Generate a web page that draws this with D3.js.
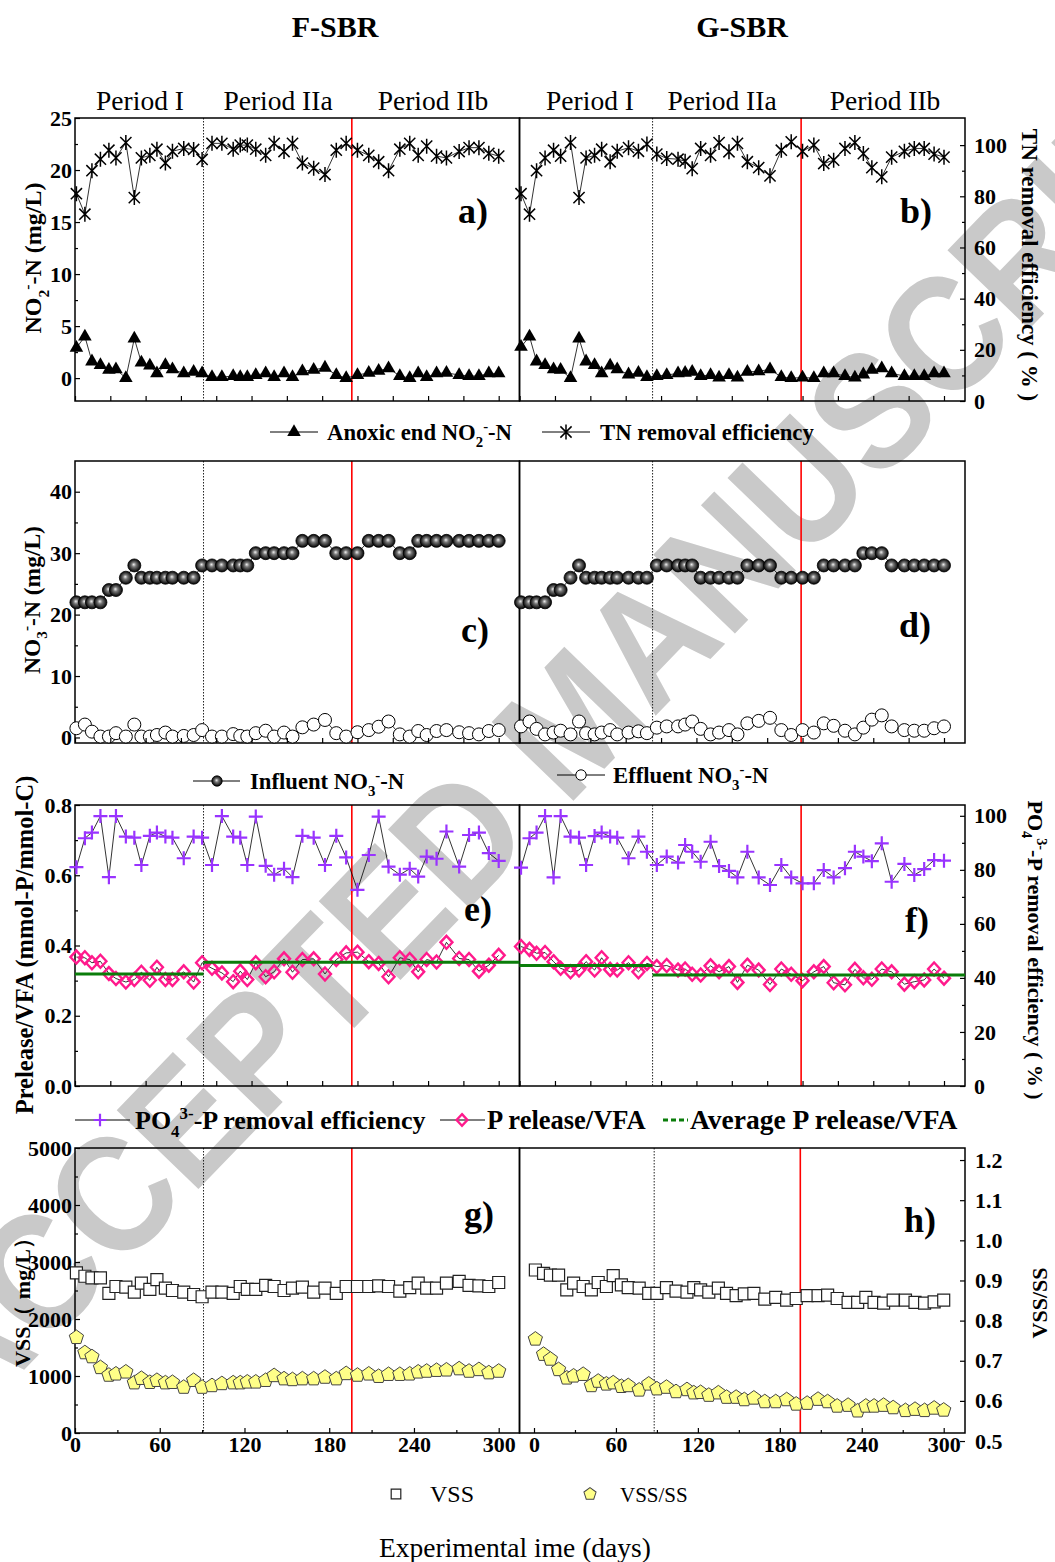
<!DOCTYPE html>
<html>
<head>
<meta charset="utf-8">
<script src="https://cdnjs.cloudflare.com/ajax/libs/d3/7.8.5/d3.min.js"></script>
<style>
  body { margin: 0; background: #fff; }
  svg text { font-family: "Liberation Serif", "Times New Roman", serif; }
  svg text.watermark { font-family: "Liberation Sans", Arial, sans-serif; }
</style>
</head>
<body>
<script>
// Sampling days (same schedule for both reactors)
const days = [1,7,12,18,24,29,36,42,47,53,58,64,69,77,84,90,97,104,112,117,122,128,135,141,148,154,
  161,169,177,185,192,200,208,215,222,230,237,243,249,256,263,272,279,286,293,300];

// Period boundaries (days) : I | IIa | IIb
const boundF = [91, 196];
const boundG = [94, 199];
const boundGh = [88, 195];
const periodNames = ['Period I', 'Period IIa', 'Period IIb'];

// a/b) anoxic end NO2--N (mg/L) and TN removal efficiency (%)
const no2F = [2.9,4.0,1.6,1.25,0.8,0.85,0,3.8,1.5,1.2,0.45,1.25,0.85,0.45,0.6,0.45,0.1,0.1,0.2,0.1,
  0.1,0.3,0.45,0.1,0.45,0.1,0.65,0.8,1.0,0.3,0,0.3,0.5,0.7,0.95,0.2,0,0.45,0.1,0.45,0.5,0.3,0.2,0.2,0.45,0.45];
const no2G = [3.0,4.0,1.6,1.25,0.85,0.8,0,3.8,1.6,1.25,0.45,1.2,0.85,0.35,0.5,0.1,0.2,0.3,0.45,0.5,
  0.6,0.2,0.3,0.05,0.3,0.05,0.6,0.65,0.85,0.1,0,0.05,0,0.45,0.45,0.2,0.05,0.35,0.8,0.95,0.45,0.2,0.2,0.2,0.45,0.45];
const tnF = [81,73,90,94.5,98,95,101,79.5,95,96,98.4,93,97.6,98.7,98.3,94.4,100.7,100.7,98.4,100,
  100,98.4,96,100.7,97.5,100.7,93,91,88.5,98,100.7,98,96,93.5,90,98.4,100.7,96,99.6,95.7,95,97.5,99,99,96.8,95.7];
const tnG = [81,73,90,95,98,95.7,101,79.5,95,96,98.4,93.5,97.6,99,97.6,100.4,96.5,94.8,94.5,93.7,
  90.8,98.7,96,101,97.4,100.7,93.5,91.2,88,98,101.3,97.6,100,92.8,94.1,98.7,101,96.7,91.2,87.6,95.3,97.6,98.7,98.7,96.5,95.3];

// c/d) influent and effluent NO3--N (mg/L)
const inflF = [22,22,22,22,24,24,26,28,26,26,26,26,26,26,26,28,28,28,28,28,28,30,30,30,30,30,32,32,32,30,
  30,30,32,32,32,30,30,32,32,32,32,32,32,32,32,32];
const inflG = [22,22,22,22,24,24,26,28,26,26,26,26,26,26,26,26,28,28,28,28,28,26,26,26,26,26,28,28,28,26,
  26,26,26,28,28,28,28,30,30,30,28,28,28,28,28,28];
const efflF = [1.5,2.1,0.95,0.15,0.15,0.7,0.15,2.1,0.15,0.15,0.4,0.8,0.15,0.25,0.4,1.2,0.15,0.15,0.55,0.25,
  0.15,0.7,1.1,0.15,0.8,0.15,1.65,2.1,2.85,0.7,0.15,0.85,1.2,1.75,2.6,0.5,0.15,1.05,0.4,1.05,1.2,0.85,0.7,0.5,1.05,1.2];
const efflG = [1.8,2.6,1.4,0.5,0.8,1.1,0.5,2.6,0.7,0.5,0.8,1.2,0.5,0.8,1.0,0.7,1.6,1.8,1.8,2.1,
  2.6,1.4,0.5,0.8,1.2,0.5,2.3,2.7,3.2,1.2,0.4,1.2,0.8,2.3,1.9,1.1,0.5,1.6,2.9,3.6,1.8,1.2,1.1,1.1,1.5,1.8];

// e/f) PO4 3--P removal efficiency (%) and P release/VFA (mmol-P/mmol-C)
const poF = [81.0,91.7,93.8,99.9,77.3,99.9,92.3,91.9,81.8,92.6,93.8,92.3,91.9,84.3,92.3,91.9,81.8,99.9,92.3,91.9,
  81.8,99.7,81.5,78.2,80.4,77.3,92.6,91.9,81.8,92.6,84.6,72.6,85.5,99.7,81.2,78.2,80.4,77.5,84.9,84.1,94.2,81.2,92.9,93.8,86.2,83.3];
const poG = [80.8,91.7,93.8,99.9,77.2,99.9,92.3,91.9,81.8,92.5,93.8,92.3,91.9,84.3,92.3,86.7,81.8,84.9,82.7,89.2,
  86.7,83.0,90.4,81.4,79.6,77.2,86.7,77.2,74.4,81.8,77.2,75.0,75.0,79.9,77.2,80.6,86.7,84.9,83.2,89.8,75.6,82.2,78.1,80.3,83.6,83.4];
const prF = [0.367,0.365,0.351,0.355,0.320,0.306,0.296,0.303,0.324,0.301,0.338,0.303,0.303,0.325,0.296,0.351,0.335,0.322,0.297,0.327,
  0.303,0.351,0.311,0.325,0.362,0.324,0.360,0.362,0.319,0.360,0.379,0.381,0.354,0.349,0.311,0.365,0.360,0.325,0.360,0.353,0.409,0.363,0.360,0.327,0.344,0.372];
const prG = [0.397,0.389,0.378,0.380,0.354,0.335,0.325,0.330,0.354,0.330,0.365,0.332,0.330,0.351,0.325,0.349,0.340,0.343,0.330,0.333,
  0.318,0.316,0.342,0.325,0.340,0.295,0.344,0.330,0.289,0.333,0.318,0.300,0.325,0.340,0.294,0.288,0.332,0.308,0.304,0.333,0.325,0.290,0.297,0.302,0.333,0.307];
// average P release/VFA for period I and period II
const avgF = [0.319, 0.352];
const avgG = [0.343, 0.316];

// g/h) VSS (mg/L) and VSS/SS
const vssF = [2810,2750,2720,2720,2450,2570,2560,2470,2630,2520,2690,2540,2500,2470,2430,2390,2470,2470,2450,2570,
  2520,2520,2590,2570,2500,2540,2560,2470,2540,2450,2570,2570,2570,2580,2570,2490,2550,2630,2540,2540,2630,2660,2590,2580,2570,2640];
const vssG = [2860,2800,2770,2770,2510,2630,2570,2510,2640,2570,2760,2600,2550,2540,2450,2450,2550,2490,2470,2550,
  2510,2470,2540,2450,2410,2440,2450,2350,2380,2330,2360,2410,2410,2420,2360,2290,2290,2380,2290,2280,2330,2330,2290,2280,2300,2330];
const ratioF = [0.758,0.720,0.710,0.683,0.664,0.667,0.672,0.645,0.656,0.646,0.651,0.645,0.646,0.634,0.651,0.634,0.638,0.643,0.645,0.645,
  0.647,0.647,0.651,0.663,0.655,0.653,0.655,0.655,0.659,0.655,0.668,0.664,0.667,0.661,0.666,0.666,0.667,0.672,0.674,0.676,0.677,0.680,0.674,0.678,0.670,0.674];
const ratioG = [0.754,0.716,0.704,0.678,0.657,0.662,0.666,0.638,0.649,0.642,0.645,0.636,0.638,0.627,0.642,0.630,0.634,0.623,0.628,0.620,
  0.621,0.614,0.620,0.609,0.609,0.603,0.607,0.598,0.598,0.603,0.592,0.594,0.604,0.598,0.587,0.589,0.575,0.587,0.587,0.589,0.583,0.576,0.579,0.576,0.582,0.577];

// ---------------------------------------------------------------------------
const width = 1055, height = 1562;
const serif = '"Liberation Serif", "Times New Roman", serif';

const svg = d3.select('body').append('svg')
  .attr('width', width)
  .attr('height', height);

svg.append('rect').attr('width', width).attr('height', height).attr('fill', '#fff');

// sphere gradient for influent markers
const defs = svg.append('defs');
const grad = defs.append('radialGradient').attr('id', 'sphere')
  .attr('cx', '50%').attr('cy', '50%').attr('r', '50%').attr('fx', '45%').attr('fy', '42%');
grad.append('stop').attr('offset', '0%').attr('stop-color', '#f0f0f0');
grad.append('stop').attr('offset', '35%').attr('stop-color', '#777');
grad.append('stop').attr('offset', '100%').attr('stop-color', '#000');

// Watermark (behind everything)
svg.append('text')
  .attr('class', 'watermark')
  .attr('transform', 'translate(571,720) rotate(-46)')
  .attr('text-anchor', 'middle')
  .attr('y', 58)
  .attr('font-weight', 'bold')
  .attr('font-size', 165)
  .attr('textLength', 1860)
  .attr('lengthAdjust', 'spacingAndGlyphs')
  .attr('fill', '#c9c9c9')
  .text('ACCEPTED MANUSCRIPT');

// Layout
const colL = [75, 519.5], colR = [519.5, 965];
const rows = [[118, 401], [461, 743], [805, 1086], [1148, 1433]];

// Scales
const xL = d3.scaleLinear().domain([0, 300]).range([75, 498.7]);
const xR = d3.scaleLinear().domain([0, 300]).range([519.6, 944]);
const xH = d3.scaleLinear().domain([0, 300]).range([534, 943.7]);

const yNO2 = d3.scaleLinear().domain([-2.2, 25]).range([rows[0][1], rows[0][0]]);
const yTN = d3.scaleLinear().domain([0, 110.6]).range([rows[0][1], rows[0][0]]);
const yNO3 = d3.scaleLinear().domain([-0.9, 45]).range([rows[1][1], rows[1][0]]);
const yPR = d3.scaleLinear().domain([0, 0.8]).range([rows[2][1], rows[2][0]]);
const yPO = d3.scaleLinear().domain([0, 104]).range([rows[2][1], rows[2][0]]);
const yVSS = d3.scaleLinear().domain([0, 5000]).range([rows[3][1], rows[3][0]]);
const yRatio = d3.scaleLinear().domain([0.52, 1.23]).range([rows[3][1], rows[3][0]]);

const bg = svg.append('g');
const fg = svg.append('g');

// Marker shapes
const pent = d3.range(5).map(i => {
  const a = -Math.PI / 2 + i * 2 * Math.PI / 5;
  return [7.5 * Math.cos(a), 7.5 * Math.sin(a)];
});
const shapes = {
  tri: { d: d3.symbol(d3.symbolTriangle, 80)(), fill: '#000', stroke: 'none', sw: 0 },
  star: { d: 'M0,-7.5V7.5M-5.6,-5.6L5.6,5.6M5.6,-5.6L-5.6,5.6', fill: 'none', stroke: '#000', sw: 1.5 },
  sphere: { circle: 6.5, fill: 'url(#sphere)', stroke: '#000', sw: 0.8 },
  open: { circle: 6.5, fill: '#fff', stroke: '#000', sw: 1 },
  plus: { d: 'M-7,0H7M0,-7V7', fill: 'none', stroke: '#9933ff', sw: 2.2 },
  diamond: { d: 'M0,-6.5L6,0L0,6.5L-6,0Z', fill: 'none', stroke: '#ff1a8c', sw: 2.4 },
  square: { d: 'M-6,-6H6V6H-6Z', fill: '#fff', stroke: '#222', sw: 1.2 },
  pent: { d: 'M' + pent.map(p => p.join(',')).join('L') + 'Z', fill: '#ffff88', stroke: '#444', sw: 1 }
};

function marker(g, type, cx, cy, scale) {
  const s = shapes[type];
  const k = scale || 1;
  if (s.circle) {
    g.append('circle').attr('cx', cx).attr('cy', cy).attr('r', s.circle * k)
      .attr('fill', s.fill).attr('stroke', s.stroke).attr('stroke-width', s.sw);
  } else {
    g.append('path').attr('d', s.d)
      .attr('transform', `translate(${cx},${cy}) scale(${k})`)
      .attr('fill', s.fill).attr('stroke', s.stroke).attr('stroke-width', s.sw / k);
  }
}

// Draw one series: optional connecting line + markers
function series(values, x, y, type, withLine) {
  const pts = values.map((v, i) => [x(days[i]), y(v)]);
  if (withLine) {
    fg.append('path')
      .attr('d', d3.line()(pts))
      .attr('fill', 'none')
      .attr('stroke', '#000')
      .attr('stroke-width', 0.8);
  }
  const g = fg.append('g');
  pts.forEach(p => marker(g, type, p[0], p[1]));
}

// Frame and period lines of a panel
function panel(col, row, x, bounds) {
  bg.append('line').attr('x1', x(bounds[0])).attr('x2', x(bounds[0]))
    .attr('y1', row[0]).attr('y2', row[1])
    .attr('stroke', '#222').attr('stroke-width', 1).attr('stroke-dasharray', '1.5,1.5');
  bg.append('line').attr('x1', x(bounds[1])).attr('x2', x(bounds[1]))
    .attr('y1', row[0]).attr('y2', row[1])
    .attr('stroke', '#ff0000').attr('stroke-width', 1.6);
  bg.append('rect')
    .attr('x', col[0]).attr('y', row[0])
    .attr('width', col[1] - col[0]).attr('height', row[1] - row[0])
    .attr('fill', 'none').attr('stroke', '#000').attr('stroke-width', 1.5);
}

function styleAxis(g, size) {
  g.attr('font-family', serif).attr('font-size', size || 22).attr('font-weight', 'bold');
  g.select('.domain').remove();
  g.selectAll('text').attr('fill', '#000');
  g.selectAll('line').attr('stroke', '#000').attr('stroke-width', 1.2);
}

function axis(kind, scale, pos, major, minor, fmt, pad) {
  const make = { left: d3.axisLeft, right: d3.axisRight, bottom: d3.axisBottom }[kind];
  const tr = kind === 'bottom' ? `translate(0,${pos})` : `translate(${pos},0)`;
  if (minor) {
    const gm = fg.append('g').attr('transform', tr)
      .call(make(scale).tickValues(minor).tickFormat('').tickSizeInner(-3).tickSizeOuter(0));
    styleAxis(gm);
  }
  const g = fg.append('g').attr('transform', tr)
    .call(make(scale).tickValues(major).tickFormat(fmt || '').tickSizeInner(-5).tickSizeOuter(0).tickPadding(pad || 3));
  styleAxis(g);
  return g;
}

// Text with sub/superscripts: parts = [[text, mode], ...]
function rich(parent, x, y, parts, size, weight, anchor) {
  const t = parent.append('text')
    .attr('x', x).attr('y', y)
    .attr('font-size', size)
    .attr('font-weight', weight || 'bold')
    .attr('text-anchor', anchor || 'start')
    .attr('fill', '#000');
  let shift = 0;
  parts.forEach(([s, mode]) => {
    const target = mode === 'sub' ? size * 0.3 : mode === 'sup' ? -size * 0.4 : 0;
    const ts = t.append('tspan').attr('dy', target - shift).text(s);
    if (mode) ts.attr('font-size', size * 0.65);
    shift = target;
  });
  return t;
}

function vtitle(cx, cy, angle, parts, size) {
  const g = fg.append('g').attr('transform', `translate(${cx},${cy}) rotate(${angle})`);
  rich(g, 0, size * 0.35, parts, size, 'bold', 'middle');
}

// ---------------------------------------------------------------------------
// Panels
const bottomTicks = d3.range(0, 301, 25);

// Row 1: a) b)
panel(colL, rows[0], xL, boundF);
panel(colR, rows[0], xR, boundG);
series(no2F, xL, yNO2, 'tri', true);
series(tnF, xL, yTN, 'star', true);
series(no2G, xR, yNO2, 'tri', true);
series(tnG, xR, yTN, 'star', true);
axis('left', yNO2, colL[0], [0, 5, 10, 15, 20, 25], d3.range(2.5, 25, 5), d3.format('d'));
axis('right', yTN, colR[1], d3.range(0, 101, 20), d3.range(10, 110, 20), d3.format('d'), 9);
axis('bottom', xL, rows[0][1], bottomTicks);
axis('bottom', xR, rows[0][1], bottomTicks);

// Row 2: c) d)
panel(colL, rows[1], xL, boundF);
panel(colR, rows[1], xR, boundG);
series(inflF, xL, yNO3, 'sphere', true);
series(efflF, xL, yNO3, 'open', true);
series(inflG, xR, yNO3, 'sphere', true);
series(efflG, xR, yNO3, 'open', true);
axis('left', yNO3, colL[0], [0, 10, 20, 30, 40], [5, 15, 25, 35], d3.format('d'));
axis('bottom', xL, rows[1][1], bottomTicks);
axis('bottom', xR, rows[1][1], bottomTicks);

// Row 3: e) f)
panel(colL, rows[2], xL, boundF);
panel(colR, rows[2], xR, boundG);
function avgLines(avg, x, col, bounds) {
  const segs = [[col[0], x(bounds[0]), avg[0]], [x(bounds[0]), col[1], avg[1]]];
  segs.forEach(s => {
    fg.append('line').attr('x1', s[0]).attr('x2', s[1])
      .attr('y1', yPR(s[2])).attr('y2', yPR(s[2]))
      .attr('stroke', '#0a7d0a').attr('stroke-width', 3);
  });
}
series(poF, xL, yPO, 'plus', true);
series(prF, xL, yPR, 'diamond', true);
avgLines(avgF, xL, colL, boundF);
series(poG, xR, yPO, 'plus', true);
series(prG, xR, yPR, 'diamond', true);
avgLines(avgG, xR, colR, boundG);
axis('left', yPR, colL[0], [0, 0.2, 0.4, 0.6, 0.8], [0.1, 0.3, 0.5, 0.7], d3.format('.1f'));
axis('right', yPO, colR[1], d3.range(0, 101, 20), d3.range(10, 100, 20), d3.format('d'), 9);
axis('bottom', xL, rows[2][1], bottomTicks);
axis('bottom', xR, rows[2][1], bottomTicks);

// Row 4: g) h)
panel(colL, rows[3], xL, boundF);
panel(colR, rows[3], xH, boundGh);
series(vssF, xL, yVSS, 'square', false);
series(ratioF, xL, yRatio, 'pent', false);
series(vssG, xH, yVSS, 'square', false);
series(ratioG, xH, yRatio, 'pent', false);
axis('left', yVSS, colL[0], d3.range(0, 5001, 1000), d3.range(500, 5000, 1000), d3.format('d'));
axis('right', yRatio, colR[1], [0.5, 0.6, 0.7, 0.8, 0.9, 1.0, 1.1, 1.2], null, d3.format('.1f'), 10);
axis('bottom', xL, rows[3][1], d3.range(0, 301, 60), d3.range(30, 301, 60), d3.format('d'), 3);
axis('bottom', xH, rows[3][1], d3.range(0, 301, 60), d3.range(30, 301, 60), d3.format('d'), 3);

// ---------------------------------------------------------------------------
// Titles and period labels
const titles = fg.append('g').attr('font-family', serif);
titles.append('text').attr('x', 335).attr('y', 37).attr('text-anchor', 'middle')
  .attr('font-size', 30).attr('font-weight', 'bold').text('F-SBR');
titles.append('text').attr('x', 742).attr('y', 37).attr('text-anchor', 'middle')
  .attr('font-size', 30).attr('font-weight', 'bold').text('G-SBR');

const periodX = [[140, 278, 433], [590, 722, 885]];
periodX.forEach(xs => xs.forEach((px, i) => {
  titles.append('text').attr('x', px).attr('y', 110).attr('text-anchor', 'middle')
    .attr('font-size', 27.5).text(periodNames[i]);
}));

// Panel letters
const letters = [['a)', 458, 223], ['b)', 900, 223], ['c)', 461, 642], ['d)', 899, 637],
  ['e)', 464, 921], ['f)', 905, 932], ['g)', 464, 1226], ['h)', 904, 1232]];
letters.forEach(l => {
  titles.append('text').attr('x', l[1]).attr('y', l[2])
    .attr('font-size', 36).attr('font-weight', 'bold').text(l[0]);
});

// Axis titles
vtitle(33, 258, -90, [['NO'], ['2', 'sub'], ['-', 'sup'], ['-N (mg/L)']], 24);
vtitle(32, 600, -90, [['NO'], ['3', 'sub'], ['-', 'sup'], ['-N (mg/L)']], 23.5);
vtitle(24, 945, -90, [['Prelease/VFA  (mmol-P/mmol-C)']], 24.5);
vtitle(22, 1297, -90, [['VSS（ mg/L）']], 22);
vtitle(1030, 265, 90, [['TN removal efficiency ( % )']], 23);
vtitle(1036, 950, 90, [['PO'], ['4', 'sub'], ['3-', 'sup'], ['-P removal efficiency ( % )']], 22);
vtitle(1039, 1303, -90, [['VSS/SS']], 22);

// ---------------------------------------------------------------------------
// Legends
const leg = fg.append('g').attr('font-family', serif);
function legLine(x1, x2, y) {
  leg.append('line').attr('x1', x1).attr('x2', x2).attr('y1', y).attr('y2', y)
    .attr('stroke', '#000').attr('stroke-width', 1);
}

legLine(270, 318, 432); marker(leg, 'tri', 294, 432);
rich(leg, 327, 440, [['Anoxic end NO'], ['2', 'sub'], ['-', 'sup'], ['-N']], 22.7);
legLine(542, 590, 432); marker(leg, 'star', 566, 432);
rich(leg, 600, 440, [['TN removal efficiency']], 22.7);

legLine(193, 240, 781); marker(leg, 'sphere', 217, 781, 0.8);
rich(leg, 250, 789, [['Influent NO'], ['3', 'sub'], ['-', 'sup'], ['-N']], 22.7);
legLine(557, 605, 775); marker(leg, 'open', 581, 775, 0.8);
rich(leg, 613, 783, [['Effluent NO'], ['3', 'sub'], ['-', 'sup'], ['-N']], 22.7);

legLine(75, 130, 1120); marker(leg, 'plus', 100, 1120, 0.9);
rich(leg, 135, 1129, [['PO'], ['4', 'sub'], ['3-', 'sup'], ['-P removal efficiency']], 26);
legLine(440, 485, 1120); marker(leg, 'diamond', 462, 1120, 0.9);
rich(leg, 487, 1129, [['P release/VFA']], 26.5);
leg.append('line').attr('x1', 663).attr('x2', 688).attr('y1', 1120).attr('y2', 1120)
  .attr('stroke', '#0a7d0a').attr('stroke-width', 3).attr('stroke-dasharray', '5,3');
rich(leg, 690, 1129, [['Average P release/VFA']], 27.5);

marker(leg, 'square', 396, 1494, 0.8);
rich(leg, 430, 1502, [['VSS']], 24, 'normal');
marker(leg, 'pent', 590, 1494, 0.85);
rich(leg, 620, 1502, [['VSS/SS']], 21, 'normal');

rich(leg, 515, 1557, [['Experimental ime (days)']], 27.5, 'normal', 'middle');
</script>
</body>
</html>
